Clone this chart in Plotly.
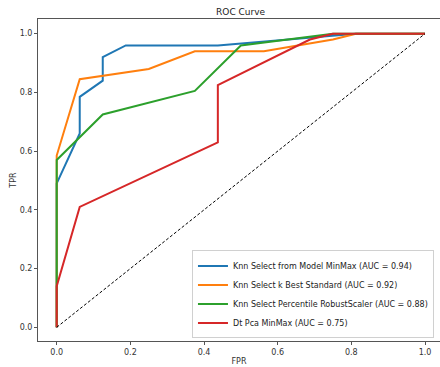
import plotly.graph_objects as go

# ROC curve data
fpr_knn_model = [0.0, 0.0, 0.0625, 0.0625, 0.125, 0.125, 0.1875, 0.4375, 0.8125, 1.0]
tpr_knn_model = [0.0, 0.49, 0.66, 0.785, 0.84, 0.92, 0.96, 0.96, 1.0, 1.0]

fpr_knn_kbest = [0.0, 0.0, 0.0625, 0.25, 0.375, 0.5625, 0.75, 0.8125, 1.0]
tpr_knn_kbest = [0.0, 0.585, 0.845, 0.88, 0.94, 0.94, 0.98, 1.0, 1.0]

fpr_knn_pct = [0.0, 0.0, 0.125, 0.375, 0.5, 0.75, 1.0]
tpr_knn_pct = [0.0, 0.57, 0.725, 0.805, 0.96, 1.0, 1.0]

fpr_dt_pca = [0.0, 0.0, 0.0625, 0.4375, 0.4375, 0.6875, 0.75, 1.0]
tpr_dt_pca = [0.0, 0.14, 0.41, 0.63, 0.825, 0.98, 1.0, 1.0]

names = [
    "Knn Select from Model MinMax (AUC = 0.94)",
    "Knn Select k Best Standard (AUC = 0.92)",
    "Knn Select Percentile RobustScaler (AUC = 0.88)",
    "Dt Pca MinMax (AUC = 0.75)",
]
colors = ["#1f77b4", "#ff7f0e", "#2ca02c", "#d62728"]
diag = [0.0, 1.0]
ticks = [0.0, 0.2, 0.4, 0.6, 0.8, 1.0]

fig = go.Figure()
series = [
    (fpr_knn_model, tpr_knn_model),
    (fpr_knn_kbest, tpr_knn_kbest),
    (fpr_knn_pct, tpr_knn_pct),
    (fpr_dt_pca, tpr_dt_pca),
]
for (x, y), n, c in zip(series, names, colors):
    fig.add_trace(go.Scatter(x=x, y=y, mode="lines", name=n,
                             line=dict(color=c, width=2)))

fig.add_trace(go.Scatter(x=diag, y=diag, mode="lines", showlegend=False,
                         line=dict(color="black", width=1, dash="3px,2px")))

font = dict(family="DejaVu Sans", size=8, color="#333")
axis_common = dict(
    showline=True, linecolor="#555", linewidth=1, mirror=True,
    ticks="outside", ticklen=3, tickcolor="#555", tickwidth=1,
    showgrid=False, zeroline=False, tickfont=font, tickformat=".1f",
    tickvals=ticks,
)

fig.update_layout(
    width=440, height=367,
    margin=dict(l=38, r=0, t=19, b=26),
    paper_bgcolor="white", plot_bgcolor="white",
    font=font,
    title=dict(text="ROC Curve", x=0.504, xref="paper", xanchor="center",
               y=1 - 12 / 367, yref="container", yanchor="middle",
               font=dict(family="DejaVu Sans", size=9, color="#222")),
    xaxis=dict(range=[-0.0508, 1.0407],
               title=dict(text="FPR", standoff=2, font=font), **axis_common),
    yaxis=dict(range=[-0.0467, 1.05],
               title=dict(text="TPR", standoff=1, font=font), **axis_common),
    legend=dict(x=0.985, y=0.008, xanchor="right", yanchor="bottom",
                bgcolor="white", bordercolor="#d0d0d0", borderwidth=1,
                font=dict(family="DejaVu Sans", size=8, color="#222"),
                itemwidth=30, tracegroupgap=0),
)

fig.write_html("out.html")
